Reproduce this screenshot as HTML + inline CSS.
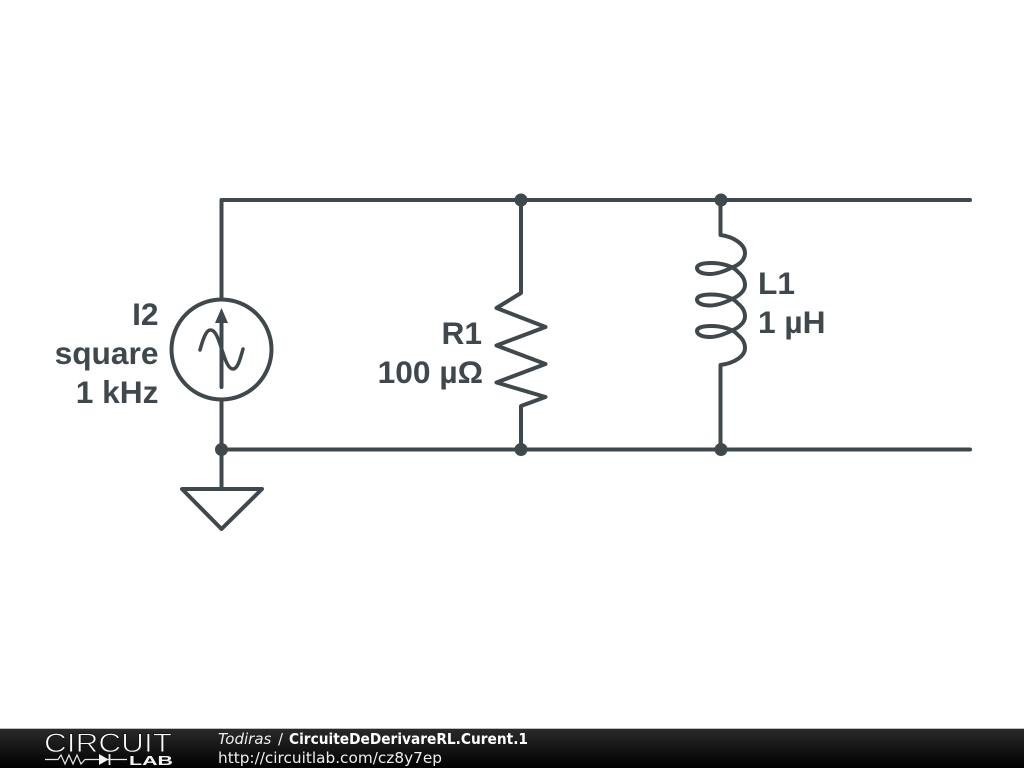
<!DOCTYPE html>
<html>
<head>
<meta charset="utf-8">
<style>
html,body{margin:0;padding:0;background:#fff;width:1024px;height:768px;overflow:hidden}
svg{display:block}
</style>
</head>
<body>
<svg width="1024" height="768" viewBox="0 0 1024 768" xmlns="http://www.w3.org/2000/svg">
<defs>
<linearGradient id="bar" x1="0" y1="0" x2="0" y2="1">
<stop offset="0" stop-color="#2a2a2a"/>
<stop offset="1" stop-color="#000"/>
</linearGradient>
</defs>
<rect width="1024" height="768" fill="#fff"/>
<g fill="none" stroke="#3f484c" stroke-width="4" stroke-linecap="round" stroke-linejoin="round">
<path d="M221.5 299V200H970"/>
<path d="M221.5 400V489"/>
<path d="M221.5 449.500H970"/>
<path d="M521 200V293L496.500 308L545.500 327L496.500 345.500L545.500 364L496.500 382.500L545.500 397L521 406V449"/>
<path d="M720.500 200V235C735 237 745 245 745 253C745 260 739 265 732 267.500C725 271 717 274 710 274C702 274 697 271.500 697 268C697 264.500 703 263 711 263C722 263 733 266 738 272C743 276 745 280 745 285C745 291 739 296 732 299C725 302.500 717 305.500 710 305.500C702 305.500 697 303 697 299.500C697 296 703 294.500 711 294.500C722 294.500 733 297.500 738 303.500C743 307.500 745 311.500 745 316.500C745 322.500 739 327.500 732 330.500C725 334 717 337 710 337C702 337 697 334.500 697 331C697 327.500 703 326 711 326C722 326 733 329 738 335C743 339 745 343 745 348C745 356 735 363 720.500 365V449"/>
<circle cx="221.500" cy="349.500" r="50"/>
<path d="M221.500 387V318"/>
<path d="M200 350C203 339 206 330 210.500 330C216 330 219 341 222 350C225 359 228 369 233 369C237.500 369 240 360 243 349" stroke-width="3.500"/>
<path d="M182 489H262L221.500 529Z"/>
</g>
<path d="M221.500 308L228 323H215Z" fill="#3f484c"/>
<g fill="#3f484c">
<circle cx="521" cy="200" r="6.500"/>
<circle cx="721" cy="200" r="6.500"/>
<circle cx="221.500" cy="449.500" r="6.500"/>
<circle cx="521" cy="449.500" r="6.500"/>
<circle cx="721" cy="449.500" r="6.500"/>
</g>
<g font-family="'Liberation Sans',sans-serif" font-weight="700" font-size="31.700" fill="#3f484c">
<text x="158.500" y="325" text-anchor="end">I2</text>
<text x="158.500" y="364" text-anchor="end">square</text>
<text x="158.500" y="403" text-anchor="end">1 kHz</text>
<text x="482" y="344" text-anchor="end">R1</text>
<text x="483" y="383" text-anchor="end">100 µΩ</text>
<text x="758" y="294">L1</text>
<text x="758" y="333">1 µH</text>
</g>
<rect x="0" y="729" width="1024" height="39" fill="url(#bar)"/>
<rect x="0" y="728" width="1024" height="1" fill="#bdbdbd"/>
<text x="44" y="752" font-family="'Liberation Sans',sans-serif" font-size="26.500" fill="#fff" stroke="#181818" stroke-width="0.900" textLength="128" lengthAdjust="spacingAndGlyphs">CIRCUIT</text>
<text x="129" y="765" font-family="'Liberation Sans',sans-serif" font-weight="700" font-size="13" fill="#f4f4f4" textLength="44" lengthAdjust="spacingAndGlyphs">LAB</text>
<g fill="none" stroke="#e8e8e8" stroke-width="1.200">
<path d="M45 759.500H58L61 755L65 764L69 755L73 764L77 755L81 764L85 759.500H127"/>
<path d="M109.500 754V765" stroke-width="1.800"/>
</g>
<path d="M99 754L108.500 759.500L99 765Z" fill="#f4f4f4"/>
<text x="218" y="744" font-family="'DejaVu Sans',sans-serif" font-size="15" font-style="italic" fill="#eee">Todiras</text>
<text x="278" y="744" font-family="'DejaVu Sans',sans-serif" font-size="15" fill="#eee">/</text>
<text x="289" y="744" font-family="'DejaVu Sans',sans-serif" font-size="15" font-weight="700" fill="#fff" textLength="239" lengthAdjust="spacingAndGlyphs">CircuiteDeDerivareRL.Curent.1</text>
<text x="218" y="763" font-family="'DejaVu Sans',sans-serif" font-size="15" fill="#eee" textLength="224" lengthAdjust="spacingAndGlyphs">http://circuitlab.com/cz8y7ep</text>
</svg>
</body>
</html>
